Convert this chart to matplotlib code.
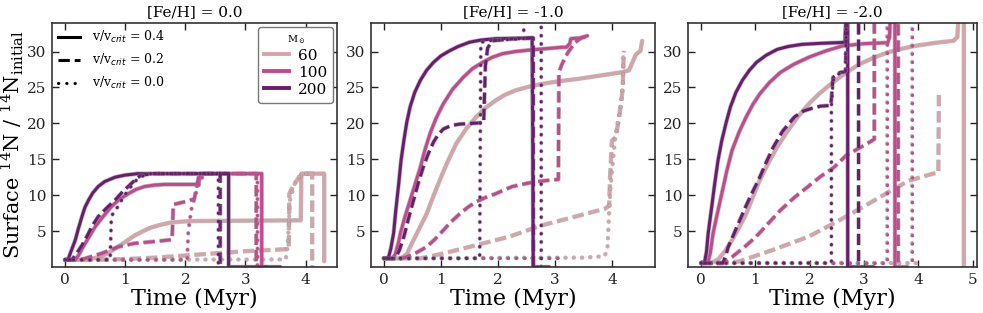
import matplotlib
matplotlib.use("Agg")
import matplotlib.pyplot as plt
import matplotlib.patheffects as pe
from matplotlib.lines import Line2D

plt.rcParams['font.family'] = ['DejaVu Serif']
plt.rcParams['mathtext.fontset'] = 'custom'
plt.rcParams['mathtext.rm'] = 'DejaVu Serif'
plt.rcParams['mathtext.it'] = 'DejaVu Sans:italic'
plt.rcParams['mathtext.bf'] = 'DejaVu Serif:bold'

# ---------------- data ----------------
panel_titles = ["[Fe/H] = 0.0", "[Fe/H] = -1.0", "[Fe/H] = -2.0"]
masses = [60, 100, 200]
vrots = ["0.4", "0.2", "0.0"]
mass_colors = ["#d7a3aa", "#c4488c", "#6b1c6e"]
xticks_sets = [[0, 1, 2, 3, 4], [0, 1, 2, 3, 4], [0, 1, 2, 3, 4, 5]]
yticks = [5, 10, 15, 20, 25, 30]

# [Fe/H] = 0.0   (time Myr, 14N/14N_init)
A_60_v4 = [(0, 1.0), (0.22, 1.0), (0.4, 1.1), (0.5, 1.25), (0.61, 1.5), (0.75, 2.1), (0.88, 2.8), (1.02, 3.6),
           (1.16, 4.4), (1.3, 5.0), (1.43, 5.5), (1.6, 5.9), (1.76, 6.2), (2.0, 6.35), (2.15, 6.4), (3.0, 6.45),
           (3.92, 6.5), (3.93, 13.0), (4.31, 13.0), (4.31, 0.8)]
A_60_v2 = [(0, 1.0), (0.5, 1.0), (1.0, 1.1), (1.5, 1.3), (2.0, 1.6), (2.5, 1.9), (3.0, 2.2), (3.5, 2.4), (3.72, 2.5),
           (3.73, 10.2), (3.81, 11.6), (3.90, 12.5), (3.95, 13.0), (4.11, 13.0), (4.11, 0.0)]
A_60_v0 = [(0, 1.0), (3.67, 1.05), (3.70, 2.8), (3.72, 5.6), (3.74, 9.3), (3.82, 11.6), (3.88, 12.5), (3.97, 13.0),
           (4.05, 13.0)]
A_100_v4 = [(0, 1.0), (0.17, 1.0), (0.23, 1.7), (0.3, 2.8), (0.4, 4.2), (0.5, 5.6), (0.63, 7.0), (0.77, 8.4),
            (0.9, 9.4), (1.05, 10.2), (1.18, 10.8), (1.32, 11.2), (1.48, 11.4), (1.65, 11.5), (2.22, 11.5),
            (2.25, 13.0), (3.27, 13.0), (3.27, 0.0), (3.35, 0.0)]
A_100_v2 = [(0, 1.0), (0.3, 1.1), (0.61, 1.9), (0.88, 2.8), (1.16, 3.3), (1.43, 3.5), (1.78, 3.8), (1.80, 8.7),
            (2.05, 9.2), (2.15, 9.5), (2.22, 12.5), (2.30, 13.0), (3.18, 13.0), (3.18, 0.0)]
A_100_v0 = [(0, 1.0), (2.03, 1.0), (2.05, 5.0), (2.10, 8.0), (2.20, 11.0), (2.30, 12.8), (2.40, 13.0), (3.20, 13.0),
            (3.20, 0.0)]
A_200_v4 = [(0, 1.0), (0.05, 1.05), (0.1, 2.2), (0.17, 3.75), (0.22, 5.3), (0.28, 7.0), (0.33, 8.3), (0.39, 9.3),
            (0.46, 10.3), (0.55, 11.2), (0.66, 11.9), (0.83, 12.5), (1.0, 12.8), (1.21, 13.0), (2.72, 13.0),
            (2.72, 0.0), (3.58, 0.0)]
A_200_v2 = [(0, 1.0), (0.115, 1.0), (0.2, 2.0), (0.28, 3.0), (0.36, 4.2), (0.45, 5.7), (0.55, 7.0), (0.69, 8.2),
            (0.83, 9.3), (0.96, 10.5), (1.10, 11.6), (1.2, 12.4), (1.27, 12.8), (1.49, 13.0), (2.58, 13.0),
            (2.58, 0.0)]
A_200_v0 = [(0, 1.0), (0.75, 1.0), (0.77, 7.0), (0.82, 7.8), (0.88, 8.4), (0.96, 9.6), (1.05, 10.7), (1.13, 11.6),
            (1.21, 12.3), (1.3, 12.7), (1.43, 13.0), (2.55, 13.0), (2.55, 0.0)]

# [Fe/H] = -1.0
B_60_v4 = [(0, 1.2), (0.3, 1.2), (0.4, 1.8), (0.52, 3.75), (0.63, 5.5), (0.75, 7.4), (0.86, 9.7), (0.98, 12.1),
           (1.12, 14.7), (1.27, 17.2), (1.44, 19.2), (1.62, 20.9), (1.79, 22.2), (1.96, 23.2), (2.13, 24.0),
           (2.31, 24.6), (2.54, 25.1), (2.77, 25.5), (3.1, 25.9), (3.41, 26.2), (4.16, 27.1), (4.30, 27.4),
           (4.36, 28.5), (4.42, 29.6), (4.50, 30.1), (4.53, 31.5)]
B_60_v2 = [(0, 1.2), (0.64, 1.2), (1.0, 1.8), (1.50, 2.8), (2.19, 4.2), (2.77, 5.8), (3.35, 7.0), (3.87, 8.1),
           (3.95, 8.5), (3.97, 13.0), (4.0, 17.6), (4.07, 18.1), (4.13, 21.1), (4.19, 24.8), (4.20, 28.0),
           (4.21, 30.1)]
B_60_v0 = [(0, 1.2), (3.5, 1.3), (3.87, 1.5), (3.92, 2.4), (3.95, 7.4), (3.97, 10.7), (4.02, 14.9), (4.05, 17.6),
           (4.10, 20.1), (4.16, 22.5), (4.19, 25.7), (4.20, 29.4), (4.21, 30.1)]
B_100_v4 = [(0, 1.2), (0.15, 1.2), (0.2, 1.8), (0.25, 3.2), (0.29, 4.7), (0.37, 7.0), (0.46, 9.3), (0.55, 11.6),
            (0.64, 13.9), (0.72, 16.3), (0.81, 18.6), (0.92, 20.8), (1.04, 22.7), (1.2, 24.7), (1.39, 26.4),
            (1.55, 27.6), (1.73, 28.5), (1.9, 29.2), (2.08, 29.7), (2.3, 30.0), (2.54, 30.2), (3.12, 30.6),
            (3.20, 30.6), (3.26, 31.1), (3.28, 31.8), (3.45, 31.9), (3.57, 32.2)]
B_100_v2 = [(0, 1.2), (0.3, 1.2), (0.4, 1.4), (0.57, 2.0), (0.75, 2.8), (0.9, 3.9), (1.04, 5.1), (1.18, 6.3),
            (1.33, 7.4), (1.47, 8.3), (1.62, 9.1), (1.79, 9.7), (1.96, 10.2), (2.1, 10.7), (2.25, 11.2),
            (2.54, 11.7), (2.8, 12.0), (3.06, 12.2), (3.07, 27.1), (3.12, 28.2), (3.23, 29.9), (3.35, 31.25),
            (3.46, 31.9), (3.55, 32.1)]
B_100_v0 = [(0, 1.2), (3.05, 1.2)]
B_200_v4 = [(0, 1.2), (0.08, 1.3), (0.12, 2.5), (0.17, 4.7), (0.21, 8.0), (0.26, 11.6), (0.30, 14.8), (0.35, 17.6),
            (0.40, 20.1), (0.46, 22.3), (0.54, 24.3), (0.64, 26.0), (0.75, 27.4), (0.87, 28.5), (1.0, 29.4),
            (1.15, 30.1), (1.3, 30.7), (1.5, 31.3), (1.7, 31.6), (1.96, 31.8), (2.60, 31.9), (2.62, 0.0),
            (2.90, 0.0)]
B_200_v2 = [(0, 1.2), (0.2, 1.2), (0.27, 2.3), (0.35, 4.2), (0.43, 6.7), (0.52, 9.3), (0.6, 11.6), (0.69, 13.9),
            (0.78, 15.8), (0.87, 17.4), (0.95, 18.4), (1.04, 19.2), (1.18, 19.7), (1.33, 19.9), (1.75, 20.1),
            (1.78, 28.0), (1.82, 30.5), (1.90, 31.5), (2.3, 31.8), (2.62, 31.9), (2.62, 0.0)]
B_200_v0 = [(0, 1.2), (1.68, 1.2), (1.70, 31.25), (1.79, 31.5), (2.45, 31.8), (2.46, 36.0), (2.76, 36.0),
            (2.76, 0.0)]

# [Fe/H] = -2.0
C_60_v4 = [(0, 0.55), (0.2, 0.6), (0.32, 1.1), (0.44, 2.2), (0.57, 3.75), (0.70, 5.5), (0.83, 7.4), (0.95, 9.7),
           (1.08, 12.1), (1.24, 14.5), (1.40, 16.7), (1.59, 18.9), (1.78, 20.9), (1.97, 22.6), (2.17, 24.1),
           (2.36, 25.3), (2.55, 26.4), (2.74, 27.4), (2.93, 28.3), (3.2, 29.2), (3.44, 29.9), (3.7, 30.4),
           (3.95, 30.8), (4.3, 31.2), (4.65, 31.5), (4.72, 32.0), (4.75, 36.0), (4.84, 36.0), (4.84, 0.0)]
C_60_v2 = [(0, 0.55), (0.45, 0.55), (0.69, 0.75), (1.33, 2.4), (1.97, 4.2), (2.45, 6.1), (2.9, 8.0), (3.4, 10.2),
           (3.82, 12.0), (4.27, 13.0), (4.37, 13.1), (4.38, 24.6)]
C_60_v0 = [(0, 0.55), (3.95, 0.55)]
C_100_v4 = [(0, 0.55), (0.12, 0.55), (0.17, 2.0), (0.22, 4.7), (0.30, 7.5), (0.38, 10.2), (0.47, 13.3),
            (0.57, 16.25), (0.70, 18.8), (0.83, 20.9), (0.95, 22.6), (1.08, 24.1), (1.26, 25.7), (1.46, 27.1),
            (1.7, 28.2), (1.98, 29.2), (2.3, 30.1), (2.61, 30.8), (3.0, 31.1), (3.44, 31.25), (3.47, 32.0),
            (3.49, 36.0), (3.57, 36.0), (3.57, 0.0), (3.8, 0.0)]
C_100_v2 = [(0, 0.55), (0.40, 0.55), (0.57, 1.4), (0.8, 2.8), (1.01, 4.2), (1.24, 6.1), (1.46, 7.9), (1.72, 9.7),
            (1.97, 11.2), (2.2, 12.6), (2.45, 13.9), (2.68, 15.6), (2.9, 16.5), (3.15, 17.6), (3.19, 17.8),
            (3.19, 36.0), (3.63, 36.0), (3.63, 0.0)]
C_100_v0 = [(0, 0.55), (3.43, 0.55), (3.43, 36.0), (3.89, 36.0), (3.89, 0.0)]
C_200_v4 = [(0, 0.55), (0.06, 0.55), (0.1, 2.2), (0.13, 4.7), (0.19, 8.1), (0.25, 11.6), (0.31, 14.8), (0.38, 17.6),
            (0.46, 20.1), (0.54, 22.3), (0.64, 24.3), (0.76, 26.0), (0.89, 27.4), (1.02, 28.5), (1.2, 29.5),
            (1.40, 30.3), (1.6, 30.7), (1.85, 31.0), (2.2, 31.15), (2.55, 31.25), (2.65, 31.3), (2.67, 36.0),
            (2.70, 36.0), (2.70, 0.0), (3.18, 0.0)]
C_200_v2 = [(0, 0.55), (0.40, 0.55), (0.45, 1.5), (0.5, 2.8), (0.66, 5.6), (0.82, 8.4), (0.95, 10.5), (1.08, 12.5),
            (1.2, 14.6), (1.33, 16.7), (1.5, 18.9), (1.72, 20.9), (1.88, 21.7), (2.04, 22.1), (2.2, 22.4),
            (2.39, 22.5), (2.43, 26.4), (2.56, 27.1), (2.66, 27.2), (2.68, 36.0), (2.90, 36.0), (2.90, 0.0)]
C_200_v0 = [(0, 0.55), (2.40, 0.55), (2.40, 22.5), (2.43, 26.0), (2.55, 27.0), (2.66, 27.2), (2.68, 36.0)]

panels = [
    [[A_60_v4, A_60_v2, A_60_v0], [A_100_v4, A_100_v2, A_100_v0], [A_200_v4, A_200_v2, A_200_v0]],
    [[B_60_v4, B_60_v2, B_60_v0], [B_100_v4, B_100_v2, B_100_v0], [B_200_v4, B_200_v2, B_200_v0]],
    [[C_60_v4, C_60_v2, C_60_v0], [C_100_v4, C_100_v2, C_100_v0], [C_200_v4, C_200_v2, C_200_v0]],
]

# ---------------- style ----------------
LW = 2.2
styles = ['-', '--', (0, (0.1, 2.6))]
axes_pos = [(0.053, 0.147, 0.290, 0.780), (0.3774, 0.147, 0.289, 0.780), (0.6999, 0.147, 0.294, 0.780)]

fig = plt.figure(figsize=(9.83, 3.13), dpi=100)
stroke = [pe.Stroke(linewidth=LW + 1.0, foreground='#888888', alpha=0.55), pe.Normal()]

axes = []
for pi, pos in enumerate(axes_pos):
    ax = fig.add_axes(pos)
    axes.append(ax)
    for mi, col in enumerate(mass_colors):
        for vi, ls in enumerate(styles):
            pts = panels[pi][mi][vi]
            t = [p[0] for p in pts]
            y = [p[1] for p in pts]
            ax.plot(t, y, color=col, lw=LW, ls=ls, solid_capstyle='round', solid_joinstyle='round',
                    dash_capstyle='round' if vi == 2 else 'butt',
                    path_effects=stroke)
    ax.set_ylim(0, 34)
    ax.margins(x=0.05)
    ax.set_xticks(xticks_sets[pi])
    ax.set_yticks(yticks)
    ax.tick_params(direction='in', top=True, right=True, length=5, width=1.0,
                   labelsize=11, colors='#222222', pad=4)
    for s in ax.spines.values():
        s.set_color('#333333')
        s.set_linewidth(1.2)
    ax.set_title(panel_titles[pi], fontsize=11, pad=5)
    ax.set_xlabel("Time (Myr)", fontsize=16, labelpad=1)

axes[0].set_ylabel("Surface $^{14}$N / $^{14}$N$_{\\rm initial}$", fontsize=15, labelpad=1)

# velocity legend
vh = [Line2D([], [], color='black', lw=LW, ls=ls, dash_capstyle='round' if i == 2 else 'butt')
      for i, ls in enumerate(styles)]
vl = ["v/v$_{crit}$ = " + v for v in vrots]
leg1 = axes[0].legend(vh, vl, loc='upper left', frameon=False, fontsize=9, handlelength=1.7,
                      labelspacing=0.55, borderaxespad=0.1, handletextpad=1.0)
axes[0].add_artist(leg1)

mh = [Line2D([], [], color=c, lw=LW + 0.6) for c in mass_colors]
ml = [str(m) for m in masses]
leg2 = axes[0].legend(mh, ml, loc='upper right', title="M$_\\odot$", title_fontsize=7, fontsize=11,
                      handlelength=1.6, labelspacing=0.2, borderaxespad=0.25, handletextpad=0.6,
                      fancybox=True, framealpha=1.0, edgecolor='#777777')

fig.savefig("out.png", dpi=100)
